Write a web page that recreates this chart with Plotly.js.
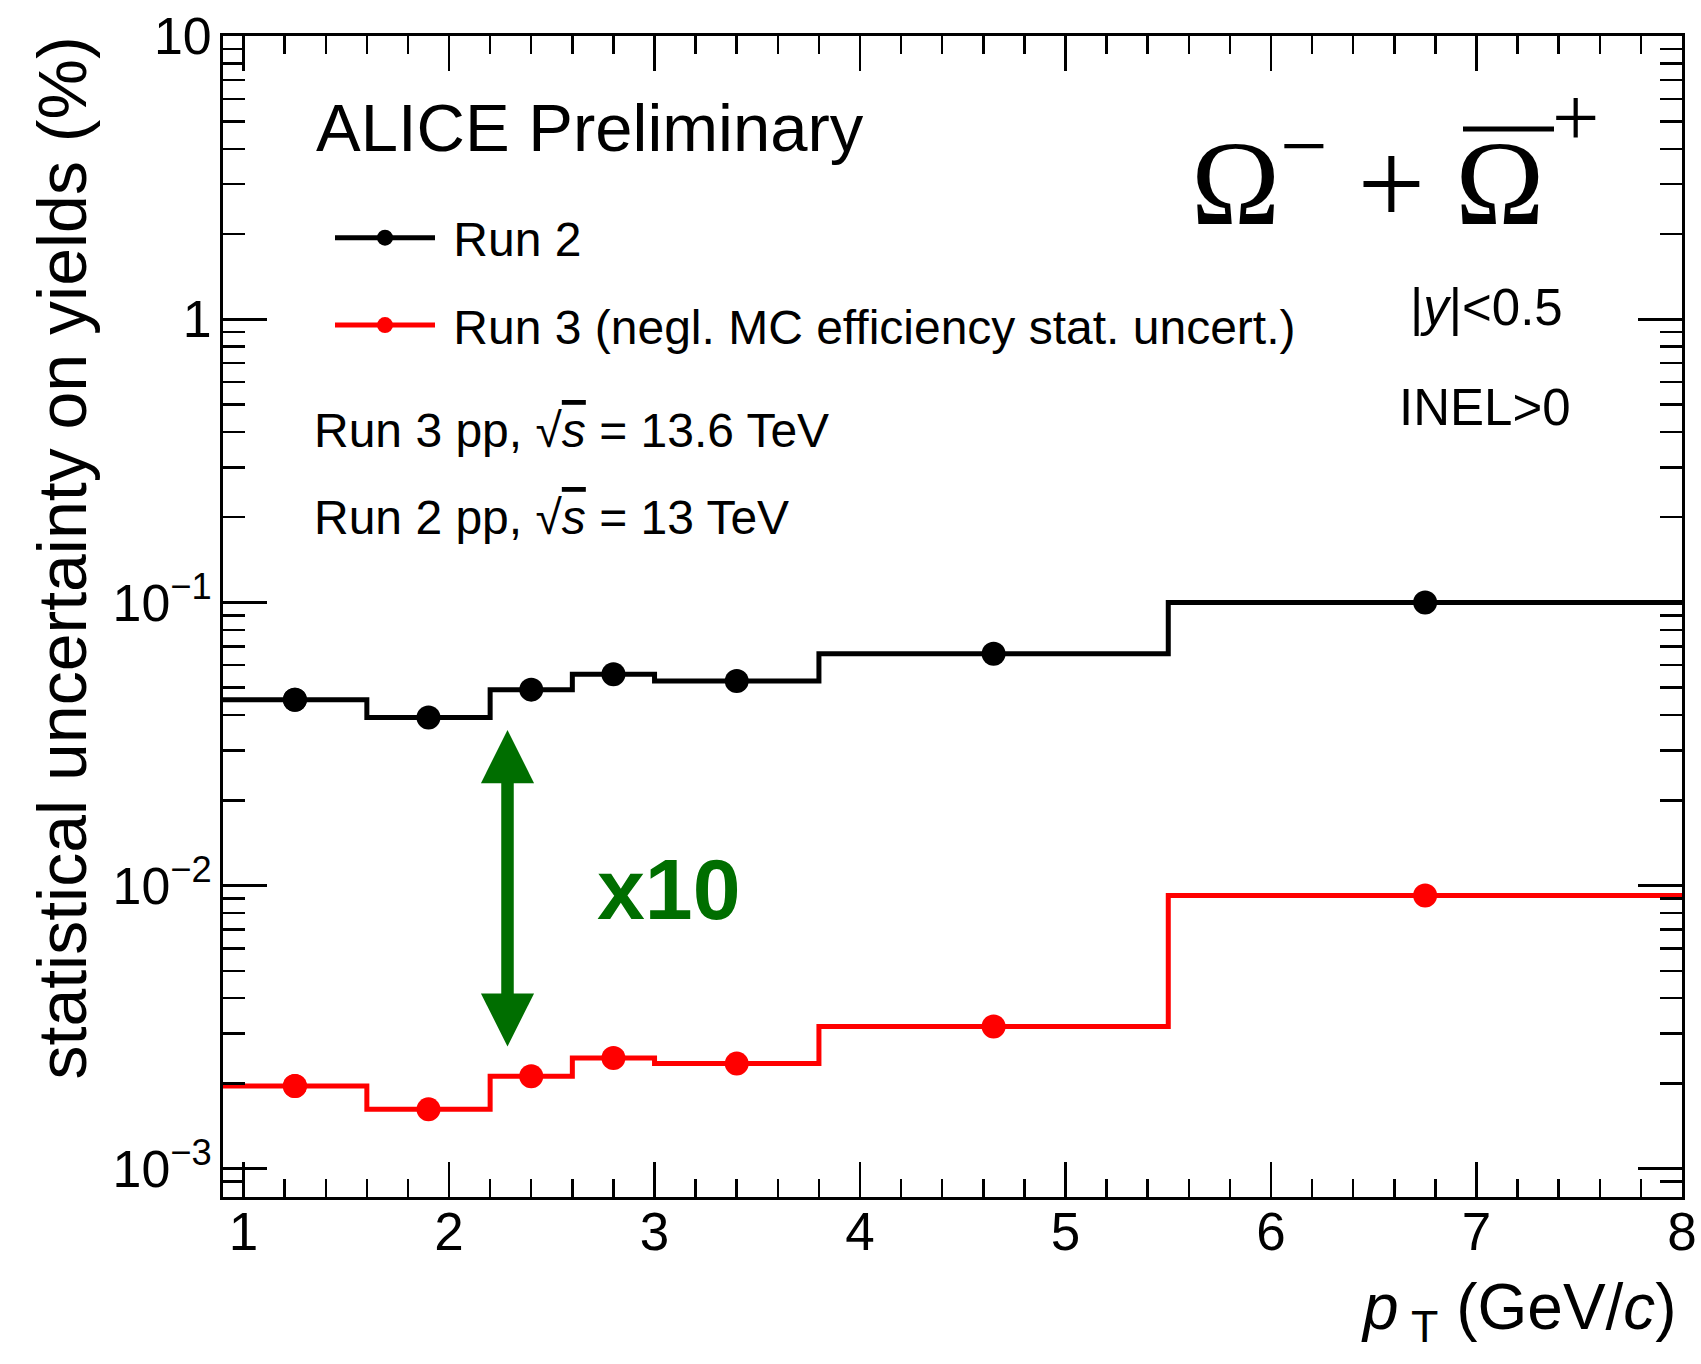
<!DOCTYPE html>
<html><head><meta charset="utf-8">
<script src="https://cdn.plot.ly/plotly-3.0.1.min.js"></script>
<style>html,body{margin:0;padding:0;background:#fff}</style>
</head><body><div id="chart" style="width:1701px;height:1364px"></div>
<script>
// ---- data ----
const binEdges   = [0.9, 1.6, 2.2, 2.6, 3.0, 3.8, 5.5, 8.0];
const binCenters = [1.25, 1.9, 2.4, 2.8, 3.4, 4.65, 6.75];
const run2Uncert = [0.0453, 0.0392, 0.0492, 0.0558, 0.0528, 0.0659, 0.100];
const run3Uncert = [0.00196, 0.00162, 0.00212, 0.00246, 0.00235, 0.00318, 0.00923];
const seriesNames = ['Run 2', 'Run 3 (negl. MC efficiency stat. uncert.)'];
const seriesColors = ['#000000', '#ff0000'];

// ---- geometry helpers ----
const W = 1701, H = 1364;
const M = {l: 223, r: 19, t: 36, b: 167};
const PW = W - M.l - M.r, PH = H - M.t - M.b;
const fx = p => (p - M.l) / PW;
const fy = p => (H - M.b - p) / PH;
const SANS = '"Liberation Sans", Arial, Helvetica, sans-serif';
const SERIF = '"Liberation Serif", "Times New Roman", serif';
const GREEN = '#006e00';
const NB = '\u00a0';

// histogram drawn as a step line ('hv') with markers at the bin centres;
// points on the bin edges carry an invisible marker
function stepTrace(vals, name, color, group) {
  const none = 'rgba(0,0,0,0)';
  const xs = [binCenters[0], binEdges[0]], ys = [vals[0], vals[0]], mcs = [color, none];
  for (let i = 0; i < vals.length; i++) {
    xs.push(binCenters[i]); ys.push(vals[i]); mcs.push(color);
    xs.push(binEdges[i + 1]); ys.push(i + 1 < vals.length ? vals[i + 1] : vals[i]); mcs.push(none);
  }
  return {
    type: 'scatter', mode: 'lines+markers', name: NB + name, legendgroup: group,
    x: xs, y: ys,
    line: {shape: 'hv', color, width: 5},
    marker: {symbol: 'circle', size: 24, color: mcs, line: {width: 0}},
    hoverinfo: 'skip'
  };
}

const traces = [
  stepTrace(run2Uncert, seriesNames[0], seriesColors[0], 'g1'),
  stepTrace(run3Uncert, seriesNames[1], seriesColors[1], 'g2')
];

function txt(text, xpx, ypx, size, xanchor, yanchor, extra) {
  return Object.assign({
    xref: 'paper', yref: 'paper', x: fx(xpx), y: fy(ypx), text, showarrow: false,
    xanchor, yanchor, borderpad: 0,
    font: {family: SANS, size, color: 'black'}
  }, extra || {});
}
const sqrtS = '√<span style="font-style:italic;text-decoration:overline">s</span>';

const annotations = [
  txt('ALICE Preliminary', 315, 166, 67, 'left', 'bottom'),
  txt('Run 3 pp, ' + sqrtS + ' = 13.6 TeV', 313, 458, 48, 'left', 'bottom'),
  txt('Run 2 pp, ' + sqrtS + ' = 13 TeV', 313, 545, 48, 'left', 'bottom'),
  txt('|<i>y</i>|&lt;0.5', 1486, 337, 51, 'center', 'bottom'),
  txt('INEL&gt;0', 1485, 437, 51, 'center', 'bottom'),
  txt('<b>x10</b>', 596, 938, 86, 'left', 'bottom', {font: {family: SANS, size: 86, color: GREEN}}),
  txt('Ω<sup>−</sup> + Ω', 1190, 251, 120, 'left', 'bottom', {font: {family: SERIF, size: 120, color: 'black'}}),
  txt('+', 1575, 118, 84, 'center', 'middle', {font: {family: SERIF, size: 84, color: 'black'}}),
  txt('statistical uncertainty on yields (%)', 22, 36, 68, 'left', 'top', {textangle: -90}),
  txt('<i>p</i><sub>' + NB + 'T</sub> (GeV/<i>c</i>)', 1678, 1270, 64, 'right', 'top'),
  {
    xref: 'paper', yref: 'paper', x: fx(507.5), y: fy(730), ax: 0, ay: 318,
    axref: 'pixel', ayref: 'pixel', text: '', showarrow: true,
    arrowhead: 2, startarrowhead: 2, arrowside: 'end+start',
    arrowsize: 0.85, startarrowsize: 0.85, arrowwidth: 12.5, arrowcolor: GREEN,
    standoff: 0, startstandoff: 0
  }
];

const shapes = [
  {type: 'line', xref: 'paper', yref: 'paper', x0: fx(1463), x1: fx(1554), y0: fy(129), y1: fy(129),
   line: {color: 'black', width: 5}}
];

const axisCommon = {
  showline: true, linecolor: 'black', linewidth: 3, mirror: 'allticks',
  ticks: 'inside', tickcolor: 'black', tickwidth: 2.5,
  showgrid: false, zeroline: false, ticklabeloverflow: 'allow'
};

const layout = {
  width: W, height: H, margin: M,
  paper_bgcolor: 'white', plot_bgcolor: 'white',
  showlegend: true,
  legend: {
    x: fx(330), y: fy(200), xanchor: 'left', yanchor: 'top',
    font: {family: SANS, size: 48, color: 'black'},
    bgcolor: 'rgba(0,0,0,0)', borderwidth: 0, itemwidth: 100,
    traceorder: 'grouped', tracegroupgap: 22, valign: 'middle'
  },
  xaxis: Object.assign({}, axisCommon, {
    range: [0.9, 8], dtick: 1, tick0: 0, ticklen: 35, ticklabelstandoff: -14,
    tickfont: {family: SANS, size: 53, color: 'black'},
    minor: {dtick: 0.2, tick0: 0, ticklen: 18, tickwidth: 2.5, tickcolor: 'black', ticks: 'inside', showgrid: false}
  }),
  yaxis: Object.assign({}, axisCommon, {
    type: 'log', range: [-3.1, 1.0005], dtick: 1, exponentformat: 'power', ticklen: 44,
    // power-format log labels are drawn 1.25x larger by Plotly
    tickfont: {family: SANS, size: 41.5, color: 'black'},
    minor: {dtick: 'D1', ticklen: 22, tickwidth: 2.5, tickcolor: 'black', ticks: 'inside', showgrid: false}
  }),
  annotations, shapes
};

Plotly.newPlot('chart', traces, layout, {displayModeBar: false, staticPlot: true});
</script>
</body></html>
